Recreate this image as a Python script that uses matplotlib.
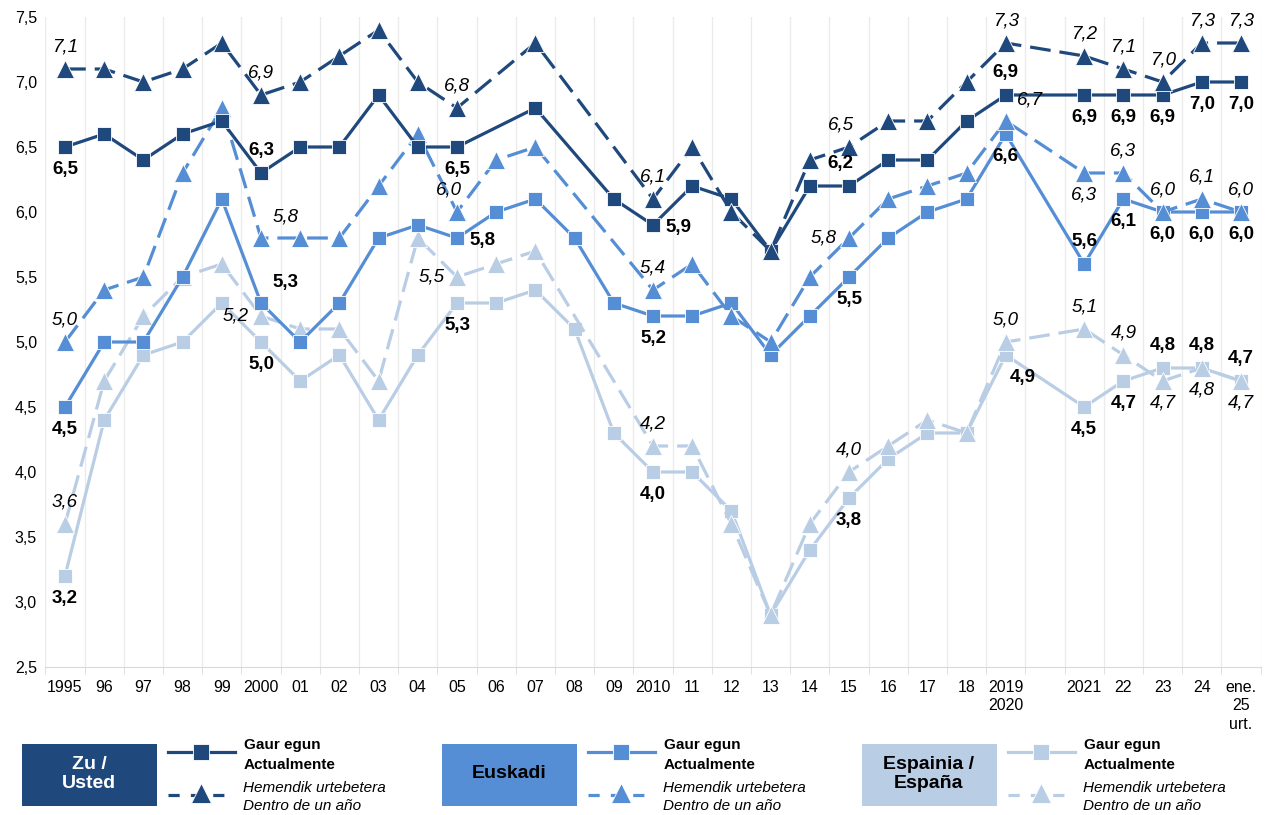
import numpy as np
import matplotlib
matplotlib.use("Agg")
import matplotlib.pyplot as plt
from matplotlib.patches import Rectangle
from matplotlib.lines import Line2D

plt.rcParams['font.family'] = ['Liberation Sans', 'DejaVu Sans']

nan = np.nan

years = ['1995', '96', '97', '98', '99', '2000', '01', '02', '03', '04', '05', '06', '07', '08', '09',
         '2010', '11', '12', '13', '14', '15', '16', '17', '18', '2019\n2020', '', '2021', '22', '23', '24',
         'ene.\n25\nurt.']

zu_gaur = [6.5, 6.6, 6.4, 6.6, 6.7, 6.3, 6.5, 6.5, 6.9, 6.5, 6.5, nan, 6.8, nan, 6.1,
           5.9, 6.2, 6.1, 5.7, 6.2, 6.2, 6.4, 6.4, 6.7, 6.9, nan, 6.9, 6.9, 6.9, 7.0, 7.0]
zu_dentro = [7.1, 7.1, 7.0, 7.1, 7.3, 6.9, 7.0, 7.2, 7.4, 7.0, 6.8, nan, 7.3, nan, nan,
             6.1, 6.5, 6.0, 5.7, 6.4, 6.5, 6.7, 6.7, 7.0, 7.3, nan, 7.2, 7.1, 7.0, 7.3, 7.3]
eus_gaur = [4.5, 5.0, 5.0, 5.5, 6.1, 5.3, 5.0, 5.3, 5.8, 5.9, 5.8, 6.0, 6.1, 5.8, 5.3,
            5.2, 5.2, 5.3, 4.9, 5.2, 5.5, 5.8, 6.0, 6.1, 6.6, nan, 5.6, 6.1, 6.0, 6.0, 6.0]
eus_dentro = [5.0, 5.4, 5.5, 6.3, 6.8, 5.8, 5.8, 5.8, 6.2, 6.6, 6.0, 6.4, 6.5, nan, nan,
              5.4, 5.6, 5.2, 5.0, 5.5, 5.8, 6.1, 6.2, 6.3, 6.7, nan, 6.3, 6.3, 6.0, 6.1, 6.0]
esp_gaur = [3.2, 4.4, 4.9, 5.0, 5.3, 5.0, 4.7, 4.9, 4.4, 4.9, 5.3, 5.3, 5.4, 5.1, 4.3,
            4.0, 4.0, 3.7, 2.9, 3.4, 3.8, 4.1, 4.3, 4.3, 4.9, nan, 4.5, 4.7, 4.8, 4.8, 4.7]
esp_dentro = [3.6, 4.7, 5.2, 5.5, 5.6, 5.2, 5.1, 5.1, 4.7, 5.8, 5.5, 5.6, 5.7, nan, nan,
              4.2, 4.2, 3.6, 2.9, 3.6, 4.0, 4.2, 4.4, 4.3, 5.0, nan, 5.1, 4.9, 4.7, 4.8, 4.7]

# where each series gets its value label
zu_gaur_lab = {0: 'b', 5: 'a', 10: 'b', 15: 'r', 20: 'al', 24: 'a', 26: 'b', 27: 'b', 28: 'b', 29: 'b', 30: 'b'}
zu_dentro_lab = {0: 'a', 5: 'a', 10: 'a', 15: 'a', 20: 'al', 24: 'a', 26: 'a', 27: 'a', 28: 'a', 29: 'a', 30: 'a'}
eus_gaur_lab = {0: 'b', 5: 'ar', 10: 'r', 15: 'b', 20: 'b', 24: 'b', 26: 'a', 27: 'b', 28: 'b', 29: 'b', 30: 'b'}
eus_dentro_lab = {0: 'a', 5: 'ar', 10: 'al', 15: 'a', 20: 'l', 24: 'ar', 26: 'b', 27: 'a', 28: 'a', 29: 'a', 30: 'a'}
esp_gaur_lab = {0: 'b', 5: 'b', 10: 'b', 15: 'b', 20: 'b', 24: 'br', 26: 'b', 27: 'b', 28: 'a', 29: 'a', 30: 'a'}
esp_dentro_lab = {0: 'a', 5: 'l', 10: 'l', 15: 'a', 20: 'a', 24: 'a', 26: 'a', 27: 'a', 28: 'b', 29: 'b', 30: 'b'}

dark = '#1F497D'
mid = '#558ED5'
light = '#B9CDE5'

W, H = 1273, 815
fig = plt.figure(figsize=(W / 100, H / 100), dpi=100)
ax = fig.add_axes([45.4 / W, 1 - 667 / H, (1260.6 - 45.4) / W, (667 - 17) / H])

x = np.arange(len(years))
dash = (0, (6.5, 2.8))

offsets = {'a': (0, 10, 'center', 'bottom'), 'b': (0, -10, 'center', 'top'),
           'l': (-9, 0, 'right', 'center'), 'r': (9, -2, 'left', 'center'),
           'al': (-6, 10, 'center', 'bottom'), 'ar': (8, 9, 'left', 'bottom'),
           'br': (3, -10, 'left', 'top')}


def draw(vals, color, dashed, labels):
    v = np.array(vals, dtype=float)
    ok = ~np.isnan(v)
    ax.plot(x[ok], v[ok], color=color, lw=2.3,
            ls=dash if dashed else '-',
            marker='^' if dashed else 's', ms=12.5 if dashed else 10.5,
            mec='white', mew=0.6, zorder=3)
    for i, pos in labels.items():
        dx, dy, ha, va = offsets[pos]
        txt = f"{v[i]:.1f}".replace('.', ',')
        ax.annotate(txt, (x[i], v[i]), xytext=(dx, dy), textcoords='offset points',
                    ha=ha, va=va, fontsize=13.5,
                    fontweight='normal' if dashed else 'bold',
                    fontstyle='italic' if dashed else 'normal',
                    color='black', zorder=5)


draw(esp_gaur, light, False, esp_gaur_lab)
draw(esp_dentro, light, True, esp_dentro_lab)
draw(eus_gaur, mid, False, eus_gaur_lab)
draw(eus_dentro, mid, True, eus_dentro_lab)
draw(zu_gaur, dark, False, zu_gaur_lab)
draw(zu_dentro, dark, True, zu_dentro_lab)

ax.set_xlim(-0.5, len(years) - 0.5)
ax.set_ylim(2.5, 7.5)
ax.set_yticks(np.arange(2.5, 7.51, 0.5))
ax.set_yticklabels([f"{t:.1f}".replace('.', ',') for t in np.arange(2.5, 7.51, 0.5)])
ax.set_xticks(x)
ax.set_xticklabels(years, fontsize=11.5, linespacing=1.3)
ax.set_xticks(np.arange(-0.5, len(years), 1), minor=True)
ax.tick_params(axis='x', which='major', length=0, pad=9, colors='black')
ax.tick_params(axis='x', which='minor', length=5, color='#D9D9D9')
ax.tick_params(axis='y', length=0, labelsize=11.5, pad=6)
ax.grid(axis='x', which='minor', color='#EBEBEB', lw=1)
for s in ['top', 'right', 'left']:
    ax.spines[s].set_visible(False)
ax.spines['bottom'].set_color('#D9D9D9')


def fx(px):
    return px / W


def fy(py):
    return 1 - py / H


groups = [(22, dark, 'Zu /\nUsted', 'white'),
          (442, mid, 'Euskadi', 'black'),
          (862, light, 'Espainia /\nEspaña', 'black')]
for x0, col, name, tcol in groups:
    fig.add_artist(Rectangle((fx(x0), fy(806)), fx(135), 62 / H, transform=fig.transFigure,
                             facecolor=col, edgecolor='none'))
    fig.text(fx(x0 + 67), fy(774), name, ha='center', va='center', fontsize=14,
             fontweight='bold', color=tcol, linespacing=1.2)
    lx = [fx(x0 + 146), fx(x0 + 213)]
    fig.add_artist(Line2D(lx, [fy(752)] * 2, transform=fig.transFigure, color=col, lw=2.3))
    fig.add_artist(Line2D([fx(x0 + 179)], [fy(752)], transform=fig.transFigure, color=col,
                          marker='s', ms=11, mec='white', mew=0.6))
    fig.add_artist(Line2D(lx, [fy(795)] * 2, transform=fig.transFigure, color=col, lw=2.3,
                          ls=(0, (3.5, 3.5))))
    fig.add_artist(Line2D([fx(x0 + 179)], [fy(793)], transform=fig.transFigure, color=col,
                          marker='^', ms=14, mec='white', mew=0.6))
    fig.text(fx(x0 + 222), fy(755), 'Gaur egun\nActualmente', ha='left', va='center',
             fontsize=11, fontweight='bold', linespacing=1.5)
    fig.text(fx(x0 + 221), fy(797), 'Hemendik urtebetera\nDentro de un año', ha='left',
             va='center', fontsize=11, fontstyle='italic', linespacing=1.45)

fig.savefig('out.png', dpi=100)
